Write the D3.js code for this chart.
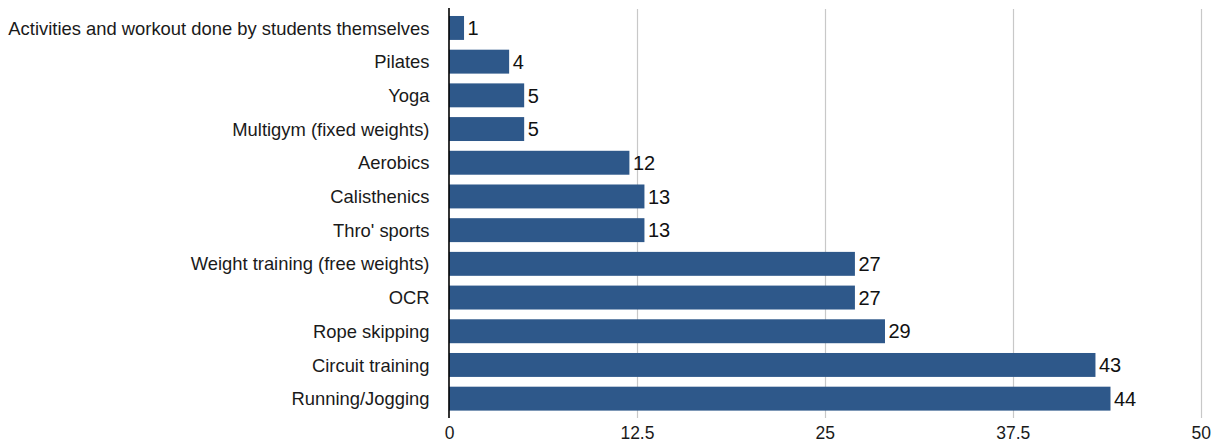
<!DOCTYPE html>
<html>
<head>
<meta charset="utf-8">
<script src="https://cdn.jsdelivr.net/npm/d3@7"></script>
<style>
  html, body { margin: 0; padding: 0; background: #fff; }
  svg { display: block; font-family: "Liberation Sans", Arial, sans-serif; }
</style>
</head>
<body>
<svg id="chart" width="1220" height="443"></svg>
<script>
// Activities, top to bottom
const categories = [
  "Activities and workout done by students themselves",
  "Pilates",
  "Yoga",
  "Multigym (fixed weights)",
  "Aerobics",
  "Calisthenics",
  "Thro' sports",
  "Weight training (free weights)",
  "OCR",
  "Rope skipping",
  "Circuit training",
  "Running/Jogging"
];
const counts = [1, 4, 5, 5, 12, 13, 13, 27, 27, 29, 43, 44];
const tickValues = [0, 12.5, 25, 37.5, 50];
const tickLabels = ["0", "12.5", "25", "37.5", "50"];

const svg = d3.select("#chart");
const x0 = 449, x1 = 1200.7;
const yTop = 11.1, yBottom = 415.5;

const x = d3.scaleLinear().domain([0, 50]).range([x0, x1]);
const y = d3.scaleBand()
  .domain(categories)
  .range([yTop, yBottom])
  .paddingInner(0.29)
  .paddingOuter(0.145);

// vertical gridlines
svg.append("g")
  .selectAll("line")
  .data(tickValues.filter(v => v > 0))
  .join("line")
  .attr("x1", d => Math.round(x(d)) + 0.5)
  .attr("x2", d => Math.round(x(d)) + 0.5)
  .attr("y1", 9)
  .attr("y2", 418)
  .attr("stroke", "#c8c8c8")
  .attr("stroke-width", 1.2);

// bars
svg.append("g")
  .selectAll("rect")
  .data(categories)
  .join("rect")
  .attr("x", x(0))
  .attr("y", d => y(d))
  .attr("width", (d, i) => x(counts[i]) - x(0))
  .attr("height", y.bandwidth())
  .attr("fill", "#2e588a");

// value labels
svg.append("g")
  .selectAll("text")
  .data(categories)
  .join("text")
  .attr("x", (d, i) => x(counts[i]) + 3.5)
  .attr("y", d => y(d) + y.bandwidth() / 2)
  .attr("dy", "0.36em")
  .attr("font-size", 20)
  .attr("fill", "#111")
  .text((d, i) => counts[i]);

// category labels
svg.append("g")
  .selectAll("text")
  .data(categories)
  .join("text")
  .attr("x", 429.5)
  .attr("y", d => y(d) + y.bandwidth() / 2)
  .attr("dy", "0.36em")
  .attr("text-anchor", "end")
  .attr("font-size", 18.4)
  .attr("fill", "#1a1a1a")
  .text(d => d);

// x tick labels
const xAxis = d3.axisBottom(x)
  .tickValues(tickValues)
  .tickFormat((d, i) => tickLabels[i])
  .tickSize(0)
  .tickPadding(0);
const gx = svg.append("g").attr("transform", "translate(0,427)").call(xAxis);
gx.select(".domain").remove();
gx.selectAll("text")
  .attr("font-size", 17.5)
  .attr("font-family", "Liberation Sans, Arial, sans-serif")
  .attr("fill", "#1a1a1a");

// value axis line at zero
svg.append("line")
  .attr("x1", x(0)).attr("x2", x(0))
  .attr("y1", 8).attr("y2", 418)
  .attr("stroke", "#000")
  .attr("stroke-width", 1.6);
</script>
</body>
</html>
